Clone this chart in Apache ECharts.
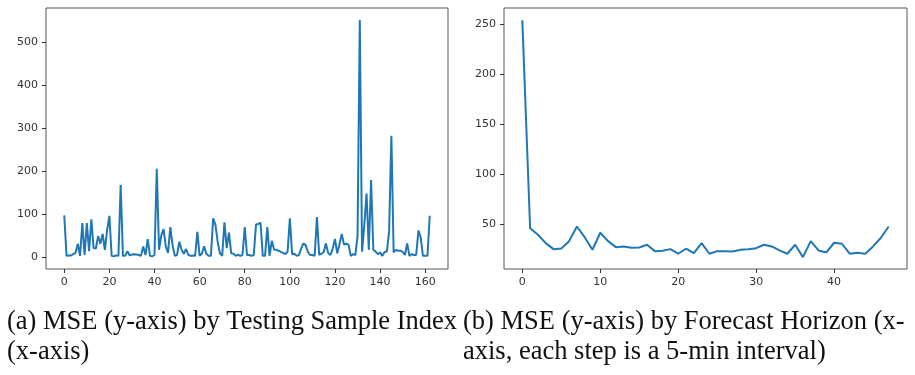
<!DOCTYPE html>
<html>
<head>
<meta charset="utf-8">
<script src="https://cdn.jsdelivr.net/npm/echarts@6.0.0/dist/echarts.min.js"></script>
<style>
  html, body { margin: 0; padding: 0; background: #fff; }
  #chart { width: 915px; height: 375px; }
</style>
</head>
<body>
<div id="chart"></div>
<script>
// MSE per testing sample (index 0..162)
const sampleMse = [
  97, 3, 4, 4, 7, 10, 31, 3, 79, 5,
  79, 14, 88, 21, 20, 49, 31, 54, 17, 63,
  96, 3, 2, 4, 3, 168, 3, 3, 14, 4,
  6, 7, 6, 5, 3, 25, 5, 42, 3, 2,
  5, 205, 17, 50, 65, 25, 10, 70, 28, 3,
  5, 36, 17, 8, 19, 5, 3, 4, 3, 59,
  3, 8, 25, 8, 3, 3, 90, 75, 36, 9,
  3, 81, 21, 57, 9, 8, 3, 6, 3, 5,
  70, 5, 5, 3, 5, 76, 77, 80, 3, 3,
  70, 3, 38, 18, 17, 15, 12, 10, 7, 13,
  90, 7, 8, 3, 5, 20, 32, 28, 12, 5,
  5, 3, 93, 5, 8, 12, 32, 9, 5, 20,
  42, 9, 30, 54, 29, 31, 29, 3, 7, 5,
  48, 551, 13, 75, 148, 17, 179, 17, 13, 7,
  11, 3, 12, 13, 60, 282, 11, 17, 15, 15,
  12, 5, 32, 3, 7, 5, 5, 62, 46, 3,
  3, 3, 96
];
// MSE per forecast horizon step (0..47)
const horizonMse = [
  254, 45.6, 39, 30.6, 24.6, 25.3, 32.6, 47.3, 36.6, 24,
  41, 32.6, 26.6, 27.3, 26, 26.3, 29, 22.6, 23, 24.6,
  20, 25, 20.6, 30.6, 20, 22.6, 22.6, 22.3, 24, 24.6,
  25.6, 29, 27.3, 23.3, 20, 29, 16.6, 32.6, 23.3, 21.3,
  31, 30, 20, 21, 20, 27.3, 36, 47.3
];
const sampleTicksX = [0, 20, 40, 60, 80, 100, 120, 140, 160];
const sampleTicksY = [0, 100, 200, 300, 400, 500];
const horizonTicksX = [0, 10, 20, 30, 40];
const horizonTicksY = [50, 100, 150, 200, 250];
const captionA = '(a) MSE (y-axis) by Testing Sample Index\n(x-axis)';
const captionB = '(b) MSE (y-axis) by Forecast Horizon (x-\naxis, each step is a 5-min interval)';

const chart = echarts.init(document.getElementById('chart'));

const lineColor = '#1f77b4';
const frameColor = '#555';
const tickFont = { fontFamily: 'DejaVu Sans', fontSize: 11, color: '#333' };

function axisFor(gridIndex, min, max, ticks) {
  return {
    type: 'value', gridIndex, min, max,
    axisLine: { show: false, onZero: false },
    splitLine: { show: false },
    axisTick: { show: true, length: 4, customValues: ticks, lineStyle: { color: '#333', width: 1 } },
    axisLabel: Object.assign({ margin: 8, customValues: ticks }, tickFont)
  };
}

const option = {
  animation: false,
  backgroundColor: '#fff',
  grid: [
    { left: 46, right: 467, top: 8, bottom: 106, show: true, borderColor: frameColor, borderWidth: 1 },
    { left: 504, right: 8, top: 8, bottom: 106, show: true, borderColor: frameColor, borderWidth: 1 }
  ],
  xAxis: [
    axisFor(0, -8.1, 170.1, sampleTicksX),
    axisFor(1, -2.35, 49.35, horizonTicksX)
  ],
  yAxis: [
    axisFor(0, -27.5, 578.6, sampleTicksY),
    axisFor(1, 4.7, 266.2, horizonTicksY)
  ],
  series: [
    {
      type: 'line', xAxisIndex: 0, yAxisIndex: 0,
      data: sampleMse.map((v, i) => [i, v]),
      showSymbol: false, lineStyle: { color: lineColor, width: 2 }
    },
    {
      type: 'line', xAxisIndex: 1, yAxisIndex: 1,
      data: horizonMse.map((v, i) => [i, v]),
      showSymbol: false, lineStyle: { color: lineColor, width: 2 }
    }
  ],
  graphic: [
    {
      type: 'text', left: 7, top: 307,
      style: { text: captionA, font: '26.5px "Liberation Serif"', fill: '#111', lineHeight: 30 }
    },
    {
      type: 'text', left: 463, top: 307,
      style: { text: captionB, font: '26.5px "Liberation Serif"', fill: '#111', lineHeight: 30 }
    }
  ]
};

chart.setOption(option);
</script>
</body>
</html>
